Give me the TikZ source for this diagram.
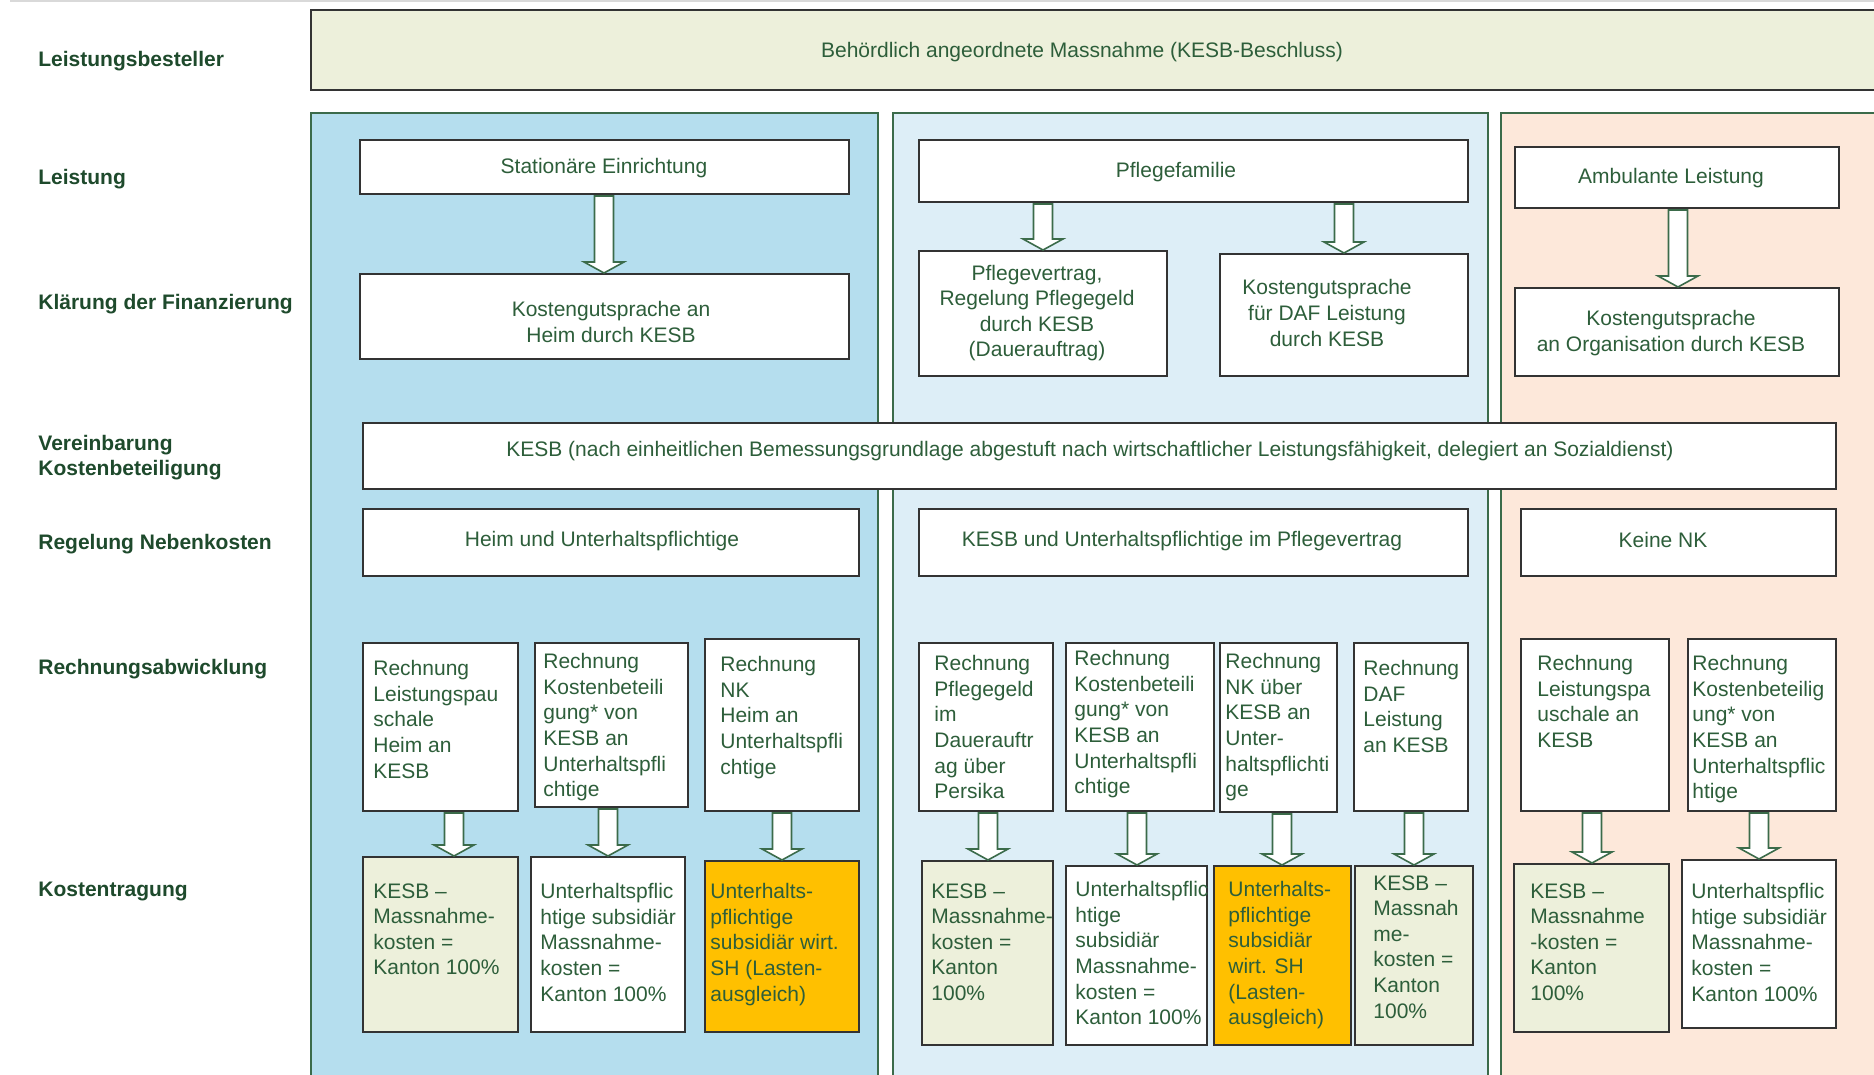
\documentclass[tikz,border=0pt]{standalone}
\usepackage{fontspec}
\setmainfont{Liberation Sans}
\usetikzlibrary{fit,calc}
\definecolor{txtg}{HTML}{2D5E3A}
\definecolor{lblg}{HTML}{1E4A2C}
\definecolor{topg}{HTML}{EDF0DB}
\definecolor{colA}{HTML}{B5DEEE}
\definecolor{colB}{HTML}{DDEEF7}
\definecolor{colC}{HTML}{FDE8DA}
\definecolor{orng}{HTML}{FFC000}
\definecolor{bline}{HTML}{333333}
\definecolor{cline}{HTML}{3B6B4A}
\tikzset{
 every node/.style={font=\fontsize{10.5}{12.8}\selectfont, text=txtg},
 lbl/.style={font=\fontsize{10.5}{12.5}\selectfont\bfseries, text=lblg, anchor=base west, inner sep=0pt},
 box/.style={draw=bline, line width=1pt, fill=white, inner sep=0pt},
 btxt/.style={anchor=north west, inner sep=0pt, align=left},
 ctxt/.style={inner sep=0pt, align=center},
 colrect/.style={draw=cline, line width=0.8pt},
 barrowsty/.style={draw=cline, line width=0.8pt, fill=white, line join=miter},
}
% small box: name, x1, y1, x2, y2, fill, text x, text top, text
\newcommand\tbox[9]{%
 \node[box, fill=#6, fit={(#2,#3)(#4,#5)}] (#1) {};
 \node[btxt] (#1t) at (#7,#8) {#9};
}
% centred box: name, x1, y1, x2, y2, text cx, text cy, text
\newcommand\cbox[8]{%
 \node[box, fit={(#2,#3)(#4,#5)}] (#1) {};
 \node[ctxt] (#1t) at (#6,#7) {#8};
}
% block arrow: source, target, x
\newcommand\barrow[3]{%
 \coordinate (ax) at (#3,0);
 \draw[barrowsty] ($(ax |- #1.south)+(-9.5,1)$) -- ($(ax |- #1.south)+(9.5,1)$)
  -- ($(ax |- #2.north)+(9.5,-11)$) -- ($(ax |- #2.north)+(20,-11)$)
  -- (ax |- #2.north) -- ($(ax |- #2.north)+(-20,-11)$)
  -- ($(ax |- #2.north)+(-9.5,-11)$) -- cycle;
}
\begin{document}
\begin{tikzpicture}[x=0.5pt,y=-0.5pt]
\useasboundingbox (0,0) rectangle (1874,1075);
\clip (0,0) rectangle (1874,1075);
\fill[white] (0,0) rectangle (1874,1075);
\draw[black!15, line width=1pt] (10,1.5) -- (1874,1.5);

% columns
\draw[colrect, fill=colA] (311,113) rectangle (878,1095);
\draw[colrect, fill=colB] (893,113) rectangle (1488,1095);
\draw[colrect, fill=colC] (1501,113) rectangle (1895,1095);

% row labels
\node[lbl] (l1) at (38,67) {Leistungsbesteller};
\node[lbl] (l2) at (38,184.5) {Leistung};
\node[lbl] (l3) at (38,309.5) {Klärung der Finanzierung};
\node[lbl, anchor=north west, align=left] (l4) at (38,435) {Vereinbarung\\Kostenbeteiligung};
\node[lbl] (l5) at (38,549.5) {Regelung Nebenkosten};
\node[lbl] (l6) at (38,674.5) {Rechnungsabwicklung};
\node[lbl] (l7) at (38,896.5) {Kostentragung};

% top box
\node[box, fill=topg, fit={(311,10)(1895,90)}] (order) {};
\node[ctxt] (ordert) at (1082,52) {Behördlich angeordnete Massnahme (KESB-Beschluss)};

% Leistung
\cbox{stat}{360}{140}{849}{194}{604}{168}{Stationäre Einrichtung}
\cbox{pflege}{919}{140}{1468}{202}{1176}{172}{Pflegefamilie}
\cbox{amb}{1515}{147}{1839}{208}{1671}{178}{Ambulante Leistung}

% Klaerung
\cbox{kgh}{360}{274}{849}{359}{611}{322}{Kostengutsprache an\\Heim durch KESB}
\cbox{pvt}{919}{251}{1167}{376}{1037}{313}{Pflegevertrag,\\Regelung Pflegegeld\\durch KESB\\(Dauerauftrag)}
\cbox{kgd}{1220}{254}{1468}{376}{1327}{313}{Kostengutsprache\\für DAF Leistung\\durch KESB}
\cbox{kgo}{1515}{288}{1839}{376}{1671}{333}{Kostengutsprache\\an Organisation durch KESB}

\barrow{stat}{kgh}{604}
\barrow{pflege}{pvt}{1043}
\barrow{pflege}{kgd}{1344}
\barrow{amb}{kgo}{1678}

% Vereinbarung
\cbox{kesb}{363}{423}{1836}{489}{1090}{451}{KESB (nach einheitlichen Bemessungsgrundlage abgestuft nach wirtschaftlicher Leistungsfähigkeit, delegiert an Sozialdienst)}

% Regelung Nebenkosten
\cbox{heim}{363}{509}{859}{576}{602}{541}{Heim und Unterhaltspflichtige}
\cbox{kup}{919}{509}{1468}{576}{1182}{541}{KESB und Unterhaltspflichtige im Pflegevertrag}
\cbox{knk}{1521}{509}{1836}{576}{1663}{540}{Keine NK}

% Rechnungsabwicklung
\tbox{a1}{363}{643}{518}{811}{white}{373}{660}{Rechnung\\Leistungspau\\schale\\Heim an\\KESB}
\tbox{a2}{535}{643}{688}{807}{white}{543}{653}{Rechnung\\Kostenbeteili\\gung* von\\KESB an\\Unterhaltspfli\\chtige}
\tbox{a3}{705}{639}{859}{811}{white}{720}{656}{Rechnung\\NK\\Heim an\\Unterhaltspfli\\chtige}
\tbox{c1}{919}{643}{1053}{811}{white}{934}{655}{Rechnung\\Pflegegeld\\im\\Dauerauftr\\ag über\\Persika}
\tbox{c2}{1066}{643}{1214}{811}{white}{1074}{650}{Rechnung\\Kostenbeteili\\gung* von\\KESB an\\Unterhaltspfli\\chtige}
\tbox{c3}{1220}{643}{1337}{812}{white}{1225}{653}{Rechnung\\NK über\\KESB an\\Unter-\\haltspflichti\\ge}
\tbox{c4}{1354}{643}{1468}{811}{white}{1363}{660}{Rechnung\\DAF\\Leistung\\an KESB}
\tbox{e1}{1521}{639}{1669}{811}{white}{1537}{655}{Rechnung\\Leistungspa\\uschale an\\KESB}
\tbox{e2}{1688}{639}{1836}{811}{white}{1692}{655}{Rechnung\\Kostenbeteilig\\ung* von\\KESB an\\Unterhaltspflic\\htige}

% Kostentragung
\tbox{b1}{363}{857}{518}{1032}{topg}{373}{883}{KESB –\\Massnahme-\\kosten =\\Kanton 100\%}
\tbox{b2}{531}{857}{685}{1032}{white}{540}{883}{Unterhaltspflic\\htige subsidiär\\Massnahme-\\kosten =\\Kanton 100\%}
\tbox{b3}{705}{861}{859}{1032}{orng}{710}{883}{Unterhalts-\\pflichtige\\subsidiär wirt.\\SH (Lasten-\\ausgleich)}
\tbox{d1}{922}{861}{1053}{1045}{topg}{931}{883}{KESB –\\Massnahme-\\kosten =\\Kanton\\100\%}
\tbox{d2}{1066}{866}{1207}{1045}{white}{1075}{881}{Unterhaltspflic\\htige\\subsidiär\\Massnahme-\\kosten =\\Kanton 100\%}
\tbox{d3}{1214}{866}{1351}{1045}{orng}{1228}{881}{Unterhalts-\\pflichtige\\subsidiär\\wirt. SH\\(Lasten-\\ausgleich)}
\tbox{d4}{1355}{866}{1473}{1045}{topg}{1373}{875}{KESB –\\Massnah\\me-\\kosten =\\Kanton\\100\%}
\tbox{f1}{1514}{864}{1669}{1032}{topg}{1530}{883}{KESB –\\Massnahme\\-kosten =\\Kanton\\100\%}
\tbox{f2}{1682}{860}{1836}{1028}{white}{1691}{883}{Unterhaltspflic\\htige subsidiär\\Massnahme-\\kosten =\\Kanton 100\%}

\barrow{a1}{b1}{454}
\barrow{a2}{b2}{608}
\barrow{a3}{b3}{782}
\barrow{c1}{d1}{988}
\barrow{c2}{d2}{1137}
\barrow{c3}{d3}{1282}
\barrow{c4}{d4}{1414}
\barrow{e1}{f1}{1592}
\barrow{e2}{f2}{1759}
\end{tikzpicture}
\end{document}
